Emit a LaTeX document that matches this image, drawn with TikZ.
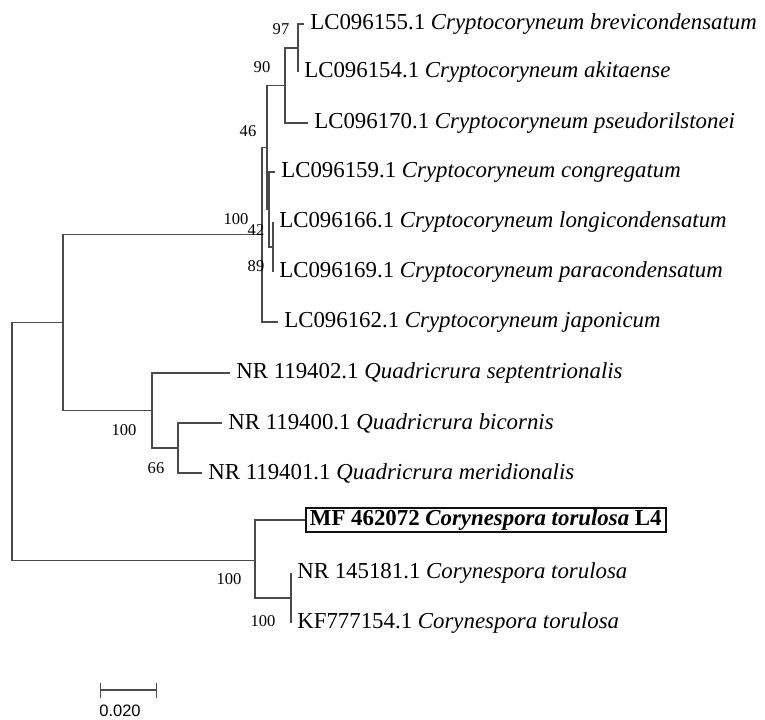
\documentclass[tikz,border=0pt]{standalone}
\usepackage{fontspec}
\setmainfont{Liberation Serif}
\setsansfont{Liberation Sans}
\usetikzlibrary{arrows.meta,positioning}
\definecolor{BranchGray}{HTML}{4A4A4A}
\definecolor{BoxBlack}{HTML}{111111}

\begin{document}
\begin{tikzpicture}[
    x=0.2mm, y=-0.2mm,
    branch/.style={draw=BranchGray, line width=0.75pt},
    tip/.style={anchor=west, inner xsep=1.2mm, inner ysep=0pt, font=\fontsize{13}{15}\selectfont},
    boot/.style={inner sep=0pt, font=\fontsize{9.4}{11}\selectfont},
    hbox/.style={draw=BoxBlack, line width=1.1pt, anchor=west, inner xsep=0.8mm, inner ysep=0.4mm, font=\fontsize{13}{15}\selectfont\bfseries}
]
  \useasboundingbox[fill=white] (0,0) rectangle (765,719);

  % =========================================================================
  % NOS INTERNOS
  % =========================================================================
  \coordinate (n_root) at (12, 441.5);
  \coordinate (n_crq) at (63, 322.6);
  \coordinate (n_cry) at (262, 234.8);
  \coordinate (n_46) at (267, 147.5);
  \coordinate (n_90) at (285, 85.5);
  \coordinate (n_97) at (298, 48);
  \coordinate (n_42) at (269, 209.5);
  \coordinate (n_89) at (273, 247);
  \coordinate (n_qua) at (152, 410.5);
  \coordinate (n_66) at (178, 448);
  \coordinate (n_cor) at (255, 560.5);
  \coordinate (n_100) at (291, 598);

  % =========================================================================
  % TERMINAIS: Cryptocoryneum
  % =========================================================================
  \node[tip] (t_155) at (304, 24) {LC096155.1 \textit{Cryptocoryneum brevicondensatum}};
  \node[tip] (t_154) at (298, 72) {LC096154.1 \textit{Cryptocoryneum akitaense}};
  \node[tip] (t_170) at (308, 123) {LC096170.1 \textit{Cryptocoryneum pseudorilstonei}};
  \node[tip] (t_159) at (275, 172) {LC096159.1 \textit{Cryptocoryneum congregatum}};
  \node[tip] (t_166) at (273, 222) {LC096166.1 \textit{Cryptocoryneum longicondensatum}};
  \node[tip] (t_169) at (273, 272) {LC096169.1 \textit{Cryptocoryneum paracondensatum}};
  \node[tip] (t_162) at (278, 322) {LC096162.1 \textit{Cryptocoryneum japonicum}};

  % Quadricrura
  \node[tip] (t_402) at (230, 373) {NR 119402.1 \textit{Quadricrura septentrionalis}};
  \node[tip] (t_400) at (222, 423) {NR 119400.1 \textit{Quadricrura bicornis}};
  \node[tip] (t_401) at (202, 473) {NR 119401.1 \textit{Quadricrura meridionalis}};

  % Corynespora
  \node[hbox] (t_mf) at (305, 520) {MF 462072 \textit{Corynespora torulosa} L4};
  \node[tip] (t_181) at (291, 573) {NR 145181.1 \textit{Corynespora torulosa}};
  \node[tip] (t_kf) at (291, 623) {KF777154.1 \textit{Corynespora torulosa}};

  % =========================================================================
  % RAMOS
  % =========================================================================
  \draw[branch] (n_root) |- (n_crq);
  \draw[branch] (n_root) |- (n_cor);
  \draw[branch] (n_crq) |- (n_cry);
  \draw[branch] (n_crq) |- (n_qua);

  \draw[branch] (n_cry) |- (n_46);
  \draw[branch] (n_cry) |- (t_162.west);
  \draw[branch] (n_46) |- (n_90);
  \draw[branch] (n_46) |- (n_42);
  \draw[branch] (n_90) |- (n_97);
  \draw[branch] (n_90) |- (t_170.west);
  \draw[branch] (n_97) |- (t_155.west);
  \draw[branch] (n_97) |- (t_154.west);
  \draw[branch] (n_42) |- (t_159.west);
  \draw[branch] (n_42) |- (n_89);
  \draw[branch] (n_89) |- (t_166.west);
  \draw[branch] (n_89) |- (t_169.west);

  \draw[branch] (n_qua) |- (t_402.west);
  \draw[branch] (n_qua) |- (n_66);
  \draw[branch] (n_66) |- (t_400.west);
  \draw[branch] (n_66) |- (t_401.west);

  \draw[branch] (n_cor) |- (t_mf.west);
  \draw[branch] (n_cor) |- (n_100);
  \draw[branch] (n_100) |- (t_181.west);
  \draw[branch] (n_100) |- (t_kf.west);

  % =========================================================================
  % BOOTSTRAP
  % =========================================================================
  \node[boot] (b_97) at (281, 29) {97};
  \node[boot] (b_90) at (262, 67) {90};
  \node[boot] (b_46) at (248, 131) {46};
  \node[boot] (b_cry) at (236, 219) {100};
  \node[boot] (b_42) at (256, 230) {42};
  \node[boot] (b_89) at (256, 266) {89};
  \node[boot] (b_qua) at (124, 430) {100};
  \node[boot] (b_66) at (156, 468) {66};
  \node[boot] (b_cor) at (229, 579) {100};
  \node[boot] (b_100) at (263, 621) {100};

  % Escala
  \coordinate (s_a) at (100, 690);
  \coordinate (s_b) at (157, 690);
  \draw[branch, {Bar[width=3mm]}-{Bar[width=3mm]}] (s_a) -- (s_b);
  \node[anchor=west, inner sep=0pt, font=\sffamily\fontsize{9.4}{11}\selectfont] (s_lbl) at (99, 711) {0.020};

\end{tikzpicture}
\end{document}
